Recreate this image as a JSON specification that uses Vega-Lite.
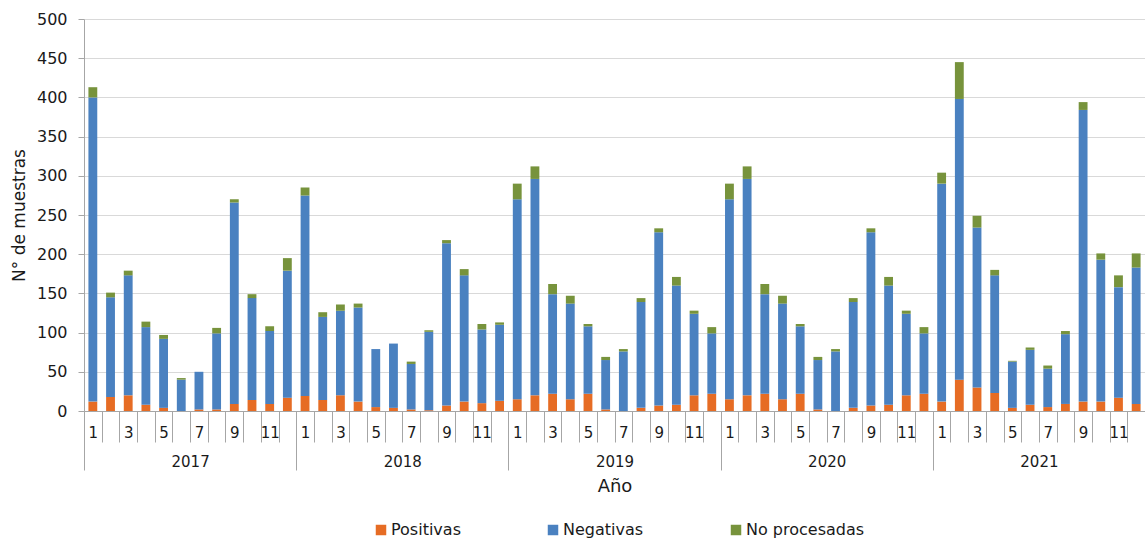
{
  "$schema": "https://vega.github.io/schema/vega-lite/v6.json",
  "autosize": {"type": "none"},
  "padding": {"left": 84, "top": 19, "right": 0, "bottom": 132},
  "width": 1061,
  "height": 392,
  "config": {
    "font": "DejaVu Sans",
    "view": {"stroke": null},
    "axis": {"labelColor": "#1a1a1a", "titleColor": "#1a1a1a", "titleFontWeight": "normal", "labelFont": "DejaVu Sans", "titleFont": "DejaVu Sans"},
    "legend": {"labelFont": "DejaVu Sans"}
  },
  "data": {
    "values": [
      {"periodo": "2017-01", "anio": "2017", "Positivas": 12, "Negativas": 388, "No procesadas": 13},
      {"periodo": "2017-02", "anio": "2017", "Positivas": 18, "Negativas": 127, "No procesadas": 6},
      {"periodo": "2017-03", "anio": "2017", "Positivas": 20, "Negativas": 153, "No procesadas": 6},
      {"periodo": "2017-04", "anio": "2017", "Positivas": 8, "Negativas": 99, "No procesadas": 7},
      {"periodo": "2017-05", "anio": "2017", "Positivas": 4, "Negativas": 88, "No procesadas": 5},
      {"periodo": "2017-06", "anio": "2017", "Positivas": 0, "Negativas": 40, "No procesadas": 2},
      {"periodo": "2017-07", "anio": "2017", "Positivas": 2, "Negativas": 48, "No procesadas": 0},
      {"periodo": "2017-08", "anio": "2017", "Positivas": 2, "Negativas": 97, "No procesadas": 7},
      {"periodo": "2017-09", "anio": "2017", "Positivas": 9, "Negativas": 257, "No procesadas": 4},
      {"periodo": "2017-10", "anio": "2017", "Positivas": 14, "Negativas": 130, "No procesadas": 5},
      {"periodo": "2017-11", "anio": "2017", "Positivas": 9, "Negativas": 93, "No procesadas": 6},
      {"periodo": "2017-12", "anio": "2017", "Positivas": 17, "Negativas": 162, "No procesadas": 16},
      {"periodo": "2018-01", "anio": "2018", "Positivas": 19, "Negativas": 256, "No procesadas": 10},
      {"periodo": "2018-02", "anio": "2018", "Positivas": 14, "Negativas": 106, "No procesadas": 6},
      {"periodo": "2018-03", "anio": "2018", "Positivas": 20, "Negativas": 108, "No procesadas": 8},
      {"periodo": "2018-04", "anio": "2018", "Positivas": 12, "Negativas": 120, "No procesadas": 5},
      {"periodo": "2018-05", "anio": "2018", "Positivas": 5, "Negativas": 74, "No procesadas": 0},
      {"periodo": "2018-06", "anio": "2018", "Positivas": 4, "Negativas": 82, "No procesadas": 0},
      {"periodo": "2018-07", "anio": "2018", "Positivas": 2, "Negativas": 58, "No procesadas": 3},
      {"periodo": "2018-08", "anio": "2018", "Positivas": 1, "Negativas": 100, "No procesadas": 2},
      {"periodo": "2018-09", "anio": "2018", "Positivas": 7, "Negativas": 207, "No procesadas": 4},
      {"periodo": "2018-10", "anio": "2018", "Positivas": 12, "Negativas": 161, "No procesadas": 8},
      {"periodo": "2018-11", "anio": "2018", "Positivas": 10, "Negativas": 94, "No procesadas": 7},
      {"periodo": "2018-12", "anio": "2018", "Positivas": 13, "Negativas": 97, "No procesadas": 3},
      {"periodo": "2019-01", "anio": "2019", "Positivas": 15, "Negativas": 255, "No procesadas": 20},
      {"periodo": "2019-02", "anio": "2019", "Positivas": 20, "Negativas": 276, "No procesadas": 16},
      {"periodo": "2019-03", "anio": "2019", "Positivas": 22, "Negativas": 127, "No procesadas": 13},
      {"periodo": "2019-04", "anio": "2019", "Positivas": 15, "Negativas": 122, "No procesadas": 10},
      {"periodo": "2019-05", "anio": "2019", "Positivas": 22, "Negativas": 86, "No procesadas": 3},
      {"periodo": "2019-06", "anio": "2019", "Positivas": 2, "Negativas": 63, "No procesadas": 4},
      {"periodo": "2019-07", "anio": "2019", "Positivas": 0, "Negativas": 76, "No procesadas": 3},
      {"periodo": "2019-08", "anio": "2019", "Positivas": 4, "Negativas": 135, "No procesadas": 5},
      {"periodo": "2019-09", "anio": "2019", "Positivas": 7, "Negativas": 221, "No procesadas": 5},
      {"periodo": "2019-10", "anio": "2019", "Positivas": 8, "Negativas": 152, "No procesadas": 11},
      {"periodo": "2019-11", "anio": "2019", "Positivas": 20, "Negativas": 104, "No procesadas": 4},
      {"periodo": "2019-12", "anio": "2019", "Positivas": 22, "Negativas": 77, "No procesadas": 8},
      {"periodo": "2020-01", "anio": "2020", "Positivas": 15, "Negativas": 255, "No procesadas": 20},
      {"periodo": "2020-02", "anio": "2020", "Positivas": 20, "Negativas": 276, "No procesadas": 16},
      {"periodo": "2020-03", "anio": "2020", "Positivas": 22, "Negativas": 127, "No procesadas": 13},
      {"periodo": "2020-04", "anio": "2020", "Positivas": 15, "Negativas": 122, "No procesadas": 10},
      {"periodo": "2020-05", "anio": "2020", "Positivas": 22, "Negativas": 86, "No procesadas": 3},
      {"periodo": "2020-06", "anio": "2020", "Positivas": 2, "Negativas": 63, "No procesadas": 4},
      {"periodo": "2020-07", "anio": "2020", "Positivas": 0, "Negativas": 76, "No procesadas": 3},
      {"periodo": "2020-08", "anio": "2020", "Positivas": 4, "Negativas": 135, "No procesadas": 5},
      {"periodo": "2020-09", "anio": "2020", "Positivas": 7, "Negativas": 221, "No procesadas": 5},
      {"periodo": "2020-10", "anio": "2020", "Positivas": 8, "Negativas": 152, "No procesadas": 11},
      {"periodo": "2020-11", "anio": "2020", "Positivas": 20, "Negativas": 104, "No procesadas": 4},
      {"periodo": "2020-12", "anio": "2020", "Positivas": 22, "Negativas": 77, "No procesadas": 8},
      {"periodo": "2021-01", "anio": "2021", "Positivas": 12, "Negativas": 278, "No procesadas": 14},
      {"periodo": "2021-02", "anio": "2021", "Positivas": 40, "Negativas": 358, "No procesadas": 47},
      {"periodo": "2021-03", "anio": "2021", "Positivas": 30, "Negativas": 204, "No procesadas": 15},
      {"periodo": "2021-04", "anio": "2021", "Positivas": 23, "Negativas": 150, "No procesadas": 7},
      {"periodo": "2021-05", "anio": "2021", "Positivas": 4, "Negativas": 59, "No procesadas": 1},
      {"periodo": "2021-06", "anio": "2021", "Positivas": 8, "Negativas": 70, "No procesadas": 3},
      {"periodo": "2021-07", "anio": "2021", "Positivas": 5, "Negativas": 49, "No procesadas": 4},
      {"periodo": "2021-08", "anio": "2021", "Positivas": 9, "Negativas": 89, "No procesadas": 4},
      {"periodo": "2021-09", "anio": "2021", "Positivas": 12, "Negativas": 372, "No procesadas": 10},
      {"periodo": "2021-10", "anio": "2021", "Positivas": 12, "Negativas": 181, "No procesadas": 8},
      {"periodo": "2021-11", "anio": "2021", "Positivas": 17, "Negativas": 141, "No procesadas": 15},
      {"periodo": "2021-12", "anio": "2021", "Positivas": 9, "Negativas": 174, "No procesadas": 18}
    ]
  },
  "transform": [
    {"fold": ["Positivas", "Negativas", "No procesadas"], "as": ["serie", "valor"]},
    {"calculate": "indexof(['Positivas', 'Negativas', 'No procesadas'], datum.serie)", "as": "orden"}
  ],
  "layer": [
    {
      "mark": {"type": "bar"},
      "encoding": {
        "x": {
          "field": "periodo",
          "type": "ordinal",
          "scale": {"paddingInner": 0.5, "paddingOuter": 0.25},
          "axis": {
            "orient": "bottom",
            "title": null,
            "tickSize": 31,
            "tickOffset": -8.84,
            "labelOffset": 8.84,
            "tickColor": "#a6a6a6",
            "domainColor": "#a6a6a6",
            "labelPadding": -17,
            "labelAngle": 0,
            "labelFontSize": 15,
            "labelOverlap": false,
            "labelExpr": "toNumber(slice(datum.value, 5)) % 2 == 1 ? toNumber(slice(datum.value, 5)) + '' : ''"
          }
        },
        "y": {
          "field": "valor",
          "type": "quantitative",
          "stack": "zero",
          "scale": {"domain": [0, 500]},
          "axis": {
            "title": "N° de muestras",
            "titleFontSize": 17,
            "titlePadding": 8,
            "values": [0, 50, 100, 150, 200, 250, 300, 350, 400, 450, 500],
            "labelFontSize": 16,
            "tickSize": 6,
            "labelPadding": 11,
            "tickColor": "#a6a6a6",
            "domainColor": "#a6a6a6",
            "gridColor": "#d9d9d9",
            "grid": true
          }
        },
        "order": {"field": "orden", "type": "quantitative", "sort": "ascending"},
        "color": {
          "field": "serie",
          "type": "nominal",
          "sort": ["Positivas", "Negativas", "No procesadas"],
          "scale": {"domain": ["Positivas", "Negativas", "No procesadas"], "range": ["#E66C24", "#4A81C0", "#77933C"]},
          "legend": {
            "title": null,
            "orient": "none",
            "legendX": 289,
            "legendY": 503,
            "direction": "horizontal",
            "symbolType": "square",
            "symbolSize": 110,
            "labelFontSize": 16,
            "labelColor": "#1a1a1a",
            "columnPadding": 84,
            "labelOffset": 2
          }
        }
      }
    },
    {
      "mark": {"type": "rule", "opacity": 0},
      "encoding": {
        "x": {
          "field": "anio",
          "type": "ordinal",
          "scale": {"paddingInner": 0, "paddingOuter": 0},
          "axis": {
            "orient": "bottom",
            "title": "Año",
            "titleFontSize": 18,
            "titlePadding": 7,
            "tickSize": 59,
            "tickOffset": -106.1,
            "labelOffset": 106.1,
            "tickColor": "#a6a6a6",
            "domain": false,
            "labelPadding": -16,
            "labelFontSize": 15,
            "labelAngle": 0,
            "grid": false
          }
        }
      }
    }
  ],
  "resolve": {"scale": {"x": "independent"}, "axis": {"x": "independent"}}
}
